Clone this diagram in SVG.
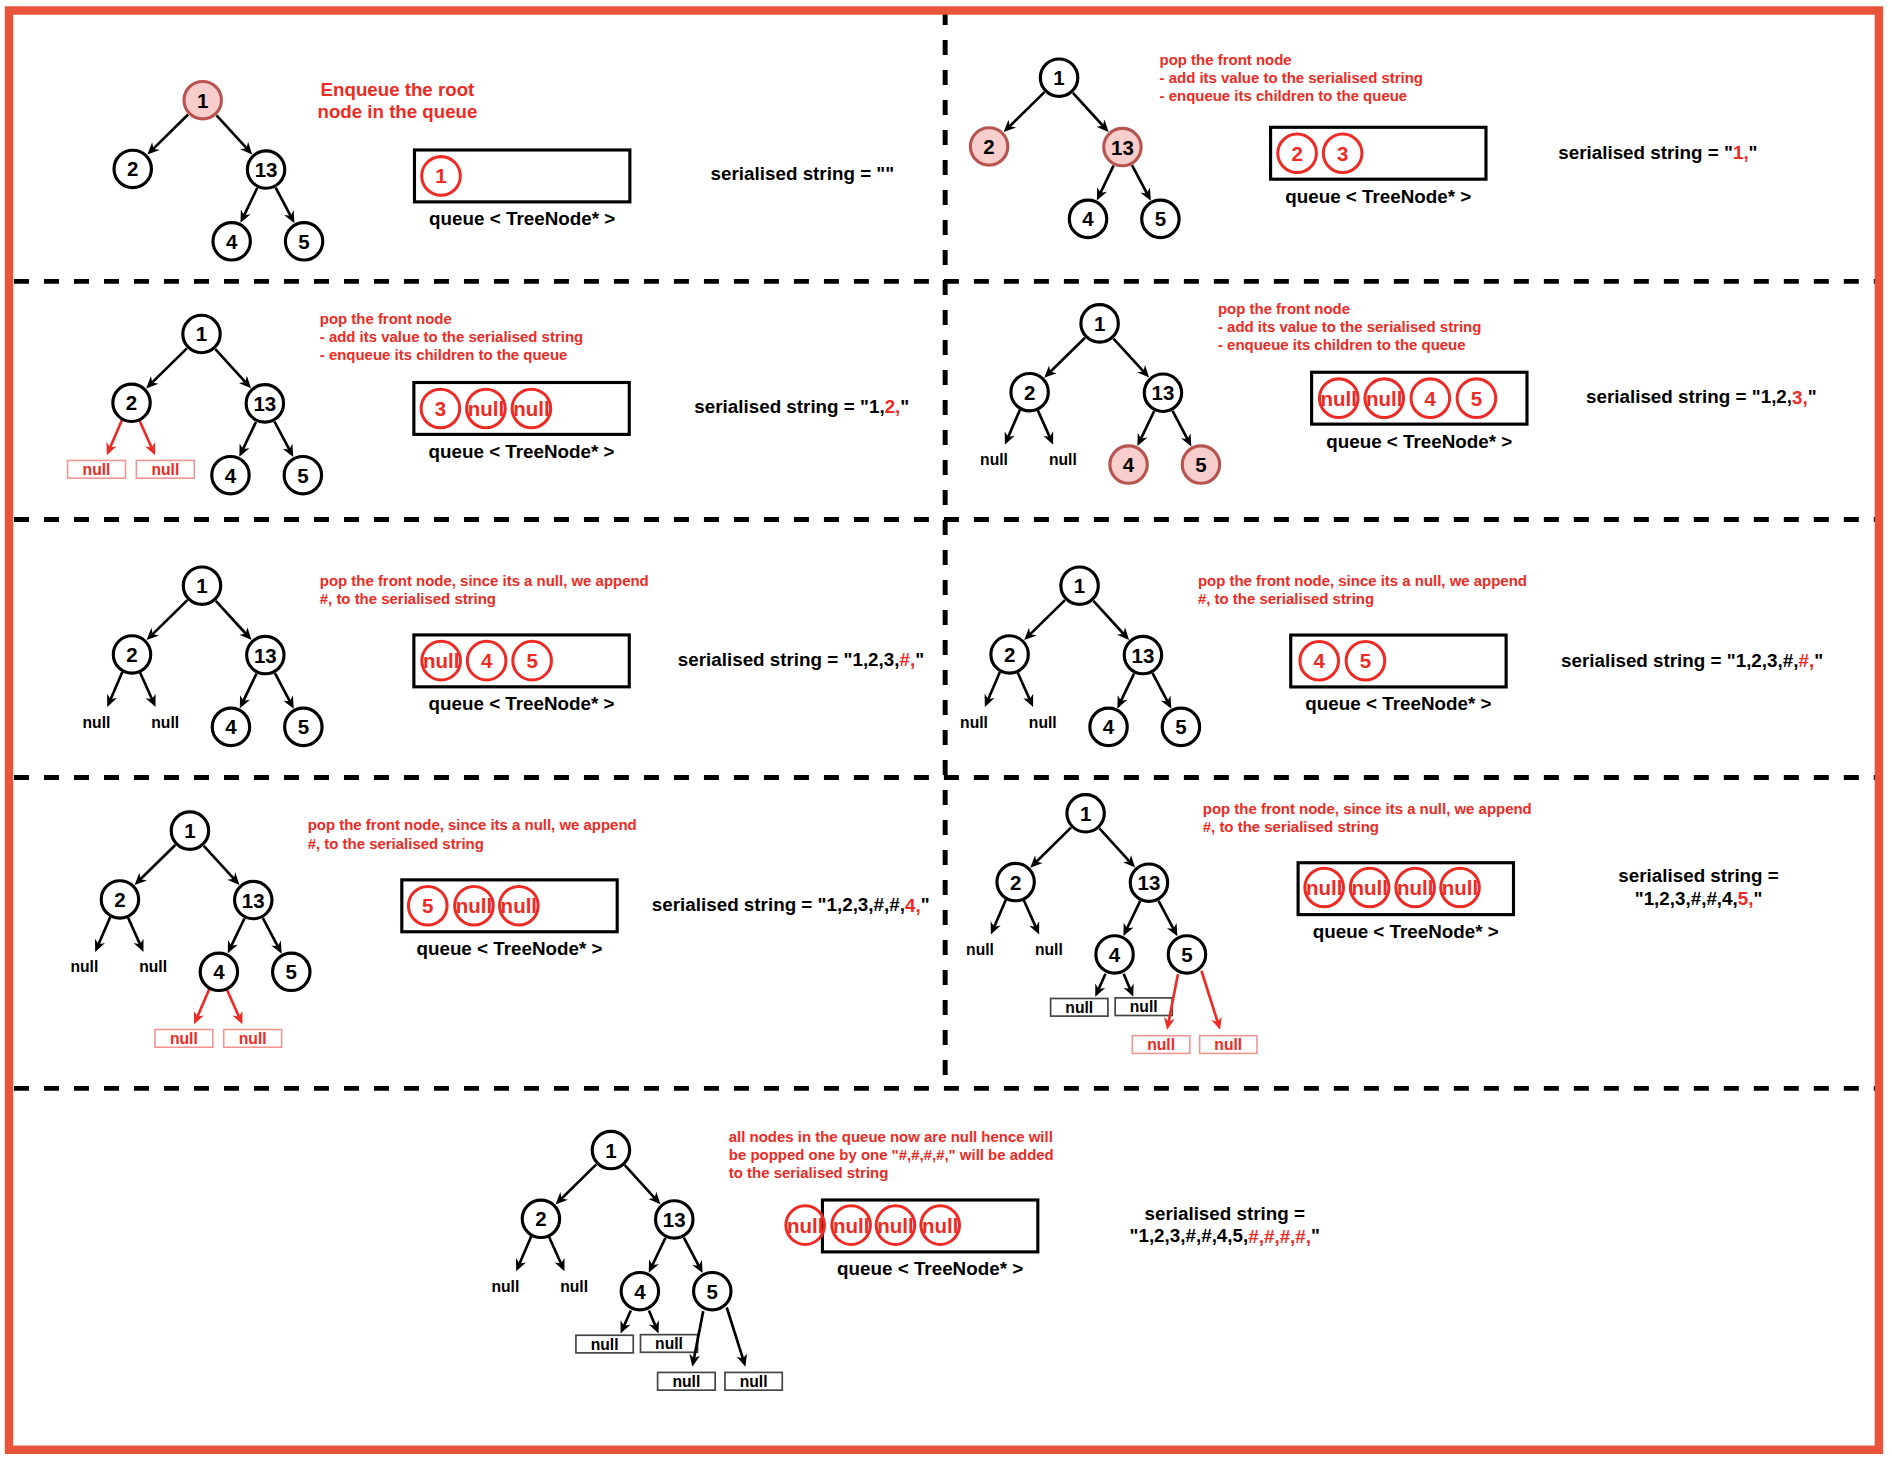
<svg xmlns="http://www.w3.org/2000/svg" width="1892" height="1458" viewBox="0 0 1892 1458">
<defs>
<style>
.bd{fill:none;stroke:#E8533A;stroke-width:7}
.dash{fill:none;stroke:#000;stroke-width:4.1;stroke-dasharray:12.43 12.43}
.nc{fill:#fff;stroke:#000;stroke-width:2.6}
.hl{fill:#F8CECC;stroke:#B85450}
.nt{font-family:"Liberation Sans",Arial,sans-serif;font-weight:bold;font-size:17px;text-anchor:middle;dominant-baseline:central;fill:#000}
.qb{fill:none;stroke:#000;stroke-width:2.6}
.qc{fill:none;stroke:#EE2A24;stroke-width:2.5}
.qt{font-family:"Liberation Sans",Arial,sans-serif;font-weight:bold;font-size:17px;text-anchor:middle;dominant-baseline:central;fill:#EE2A24}
.lbl{font-family:"Liberation Sans",Arial,sans-serif;font-weight:bold;font-size:15.6px;text-anchor:middle;dominant-baseline:central;fill:#000}
.note{font-family:"Liberation Sans",Arial,sans-serif;font-weight:bold;font-size:12.4px;dominant-baseline:central;fill:#EE2A24}
.big{font-size:15.5px;text-anchor:middle}
.r{fill:#EE2A24}
.e{stroke:#000;stroke-width:2.2;fill:none;marker-end:url(#ah)}
.er{stroke:#EE2A24;stroke-width:2.2;fill:none;marker-end:url(#ahr)}
.nb{fill:#fff;stroke:#F29490;stroke-width:1.3}
.kb{fill:#fff;stroke:#444;stroke-width:1.4}
.nlt{font-family:"Liberation Sans",Arial,sans-serif;font-weight:bold;font-size:13px;text-anchor:middle;dominant-baseline:central;fill:#000}
.nlr{fill:#EE2A24}
</style>
<marker id="ah" markerUnits="userSpaceOnUse" markerWidth="11" markerHeight="10" refX="5" refY="4.5" orient="auto" overflow="visible"><path d="M0,0 L10,4.5 L0,9 L3,4.5 Z" fill="#000"/></marker>
<marker id="ahr" markerUnits="userSpaceOnUse" markerWidth="11" markerHeight="10" refX="5" refY="4.5" orient="auto" overflow="visible"><path d="M0,0 L10,4.5 L0,9 L3,4.5 Z" fill="#EE2A24"/></marker>
</defs>
<rect width="1892" height="1458" fill="#fff"/>
<g transform="scale(1.206633)">
<g id="separators">
<line class="dash" x1="783.3" y1="8.3" x2="783.3" y2="892"/>
<line class="dash" x1="11.6" y1="233.2" x2="1557" y2="233.2"/>
<line class="dash" x1="11.6" y1="430.5" x2="1557" y2="430.5"/>
<line class="dash" x1="11.6" y1="644.4" x2="1557" y2="644.4"/>
<line class="dash" x1="11.6" y1="902" x2="1557" y2="902"/>
</g>
<rect class="bd" x="7.46" y="8.7" width="1549.7" height="1192.8"/>

<!-- PANEL 1 -->
<g id="panel1">
<g id="p1-tree" transform="translate(168 83)">
<g id="p1-connectors">
<line class="e" x1="-12.12" y1="11.92" x2="-42.31" y2="41.58"/>
<line class="e" x1="11.46" y1="12.55" x2="37.67" y2="41.26"/>
<line class="e" x1="45.16" y1="72.83" x2="33.5" y2="97.16"/>
<line class="e" x1="60.45" y1="72.52" x2="73.71" y2="97.56"/>
</g>
<g id="p1-n1"><circle class="nc hl" r="15.5"/><text class="nt">1</text></g>
<g id="p1-n2" transform="translate(-58 57)"><circle class="nc" r="15.5"/><text class="nt">2</text></g>
<g id="p1-n13" transform="translate(52.5 57.5)"><circle class="nc" r="15.5"/><text class="nt">13</text></g>
<g id="p1-n4" transform="translate(24 117)"><circle class="nc" r="15.5"/><text class="nt">4</text></g>
<g id="p1-n5" transform="translate(84 117)"><circle class="nc" r="15.5"/><text class="nt">5</text></g>
</g>
<text class="note big" x="329.4" y="73.8">Enqueue the root</text>
<text class="note big" x="329.4" y="92.6">node in the queue</text>
<g id="p1-queue"><rect class="qb" x="343.5" y="124.3" width="178.5" height="43"/>
<circle class="qc" cx="365.5" cy="145.8" r="16"/><text class="qt" x="365.5" y="145.8">1</text></g>
<text class="lbl" x="432.75" y="181.3">queue &lt; TreeNode* &gt;</text>
<text class="lbl" x="665" y="144.2">serialised string = ""</text>
</g>

<!-- PANEL 2 -->
<g id="panel2">
<g id="p2-tree" transform="translate(877.7 64.4)">
<g id="p2-connectors">
<line class="e" x1="-12.12" y1="11.92" x2="-42.31" y2="41.58"/>
<line class="e" x1="11.46" y1="12.55" x2="37.67" y2="41.26"/>
<line class="e" x1="45.16" y1="72.83" x2="33.5" y2="97.16"/>
<line class="e" x1="60.45" y1="72.52" x2="73.71" y2="97.56"/>
</g>
<g id="p2-n1"><circle class="nc" r="15.5"/><text class="nt">1</text></g>
<g id="p2-n2" transform="translate(-58 57)"><circle class="nc hl" r="15.5"/><text class="nt">2</text></g>
<g id="p2-n13" transform="translate(52.5 57.5)"><circle class="nc hl" r="15.5"/><text class="nt">13</text></g>
<g id="p2-n4" transform="translate(24 117)"><circle class="nc" r="15.5"/><text class="nt">4</text></g>
<g id="p2-n5" transform="translate(84 117)"><circle class="nc" r="15.5"/><text class="nt">5</text></g>
</g>
<text class="note" x="961" y="49.2">pop the front node</text>
<text class="note" x="961" y="64.1">- add its value to the serialised string</text>
<text class="note" x="961" y="79">- enqueue its children to the queue</text>
<g id="p2-queue"><rect class="qb" x="1053" y="105.5" width="178.5" height="43"/>
<circle class="qc" cx="1075" cy="127" r="16"/><text class="qt" x="1075" y="127">2</text>
<circle class="qc" cx="1112.7" cy="127" r="16"/><text class="qt" x="1112.7" y="127">3</text></g>
<text class="lbl" x="1142.25" y="162.5">queue &lt; TreeNode* &gt;</text>
<text class="lbl" x="1374" y="126.3">serialised string = "<tspan class="r">1,</tspan>"</text>
</g>

<!-- PANEL 3 -->
<g id="panel3">
<g id="p3-tree" transform="translate(167 276.8)">
<g id="p3-null-l"><rect class="nb" x="-111" y="104.8" width="48" height="14.7"/><text class="nlt nlr" x="-87" y="112.15">null</text></g>
<g id="p3-null-r"><rect class="nb" x="-54" y="104.8" width="48" height="14.7"/><text class="nlt nlr" x="-30" y="112.15">null</text></g>
<g id="p3-connectors">
<line class="e" x1="-12.12" y1="11.92" x2="-42.31" y2="41.58"/>
<line class="e" x1="11.46" y1="12.55" x2="37.67" y2="41.26"/>
<line class="e" x1="45.16" y1="72.83" x2="33.5" y2="97.16"/>
<line class="e" x1="60.45" y1="72.52" x2="73.71" y2="97.56"/>
<line class="er" x1="-66" y1="71.5" x2="-76.52" y2="95.91"/>
<line class="er" x1="-51.5" y1="71.5" x2="-40.55" y2="95.94"/>
</g>
<g id="p3-n1"><circle class="nc" r="15.5"/><text class="nt">1</text></g>
<g id="p3-n2" transform="translate(-58 57)"><circle class="nc" r="15.5"/><text class="nt">2</text></g>
<g id="p3-n13" transform="translate(52.5 57.5)"><circle class="nc" r="15.5"/><text class="nt">13</text></g>
<g id="p3-n4" transform="translate(24 117)"><circle class="nc" r="15.5"/><text class="nt">4</text></g>
<g id="p3-n5" transform="translate(84 117)"><circle class="nc" r="15.5"/><text class="nt">5</text></g>
</g>
<text class="note" x="265" y="263.8">pop the front node</text>
<text class="note" x="265" y="279">- add its value to the serialised string</text>
<text class="note" x="265" y="293.7">- enqueue its children to the queue</text>
<g id="p3-queue"><rect class="qb" x="343" y="317" width="178.5" height="43"/>
<circle class="qc" cx="365" cy="338.5" r="16"/><text class="qt" x="365" y="338.5">3</text>
<circle class="qc" cx="402.7" cy="338.5" r="16"/><text class="qt" x="402.7" y="338.5">null</text>
<circle class="qc" cx="440.4" cy="338.5" r="16"/><text class="qt" x="440.4" y="338.5">null</text></g>
<text class="lbl" x="432.25" y="374">queue &lt; TreeNode* &gt;</text>
<text class="lbl" x="664.5" y="336.5">serialised string = "1,<tspan class="r">2,</tspan>"</text>
</g>

<!-- PANEL 4 -->
<g id="panel4">
<g id="p4-tree" transform="translate(911.3 268)">
<g id="p4-connectors">
<line class="e" x1="-12.12" y1="11.92" x2="-42.31" y2="41.58"/>
<line class="e" x1="11.46" y1="12.55" x2="37.67" y2="41.26"/>
<line class="e" x1="45.16" y1="72.83" x2="33.5" y2="97.16"/>
<line class="e" x1="60.45" y1="72.52" x2="73.71" y2="97.56"/>
<line class="e" x1="-66" y1="71.5" x2="-76.52" y2="95.91"/>
<line class="e" x1="-51.5" y1="71.5" x2="-40.55" y2="95.94"/>
</g>
<g id="p4-n1"><circle class="nc" r="15.5"/><text class="nt">1</text></g>
<g id="p4-n2" transform="translate(-58 57)"><circle class="nc" r="15.5"/><text class="nt">2</text></g>
<g id="p4-n13" transform="translate(52.5 57.5)"><circle class="nc" r="15.5"/><text class="nt">13</text></g>
<g id="p4-n4" transform="translate(24 117)"><circle class="nc hl" r="15.5"/><text class="nt">4</text></g>
<g id="p4-n5" transform="translate(84 117)"><circle class="nc hl" r="15.5"/><text class="nt">5</text></g>
<g id="p4-null-l"><text class="nlt" x="-87.5" y="113">null</text></g>
<g id="p4-null-r"><text class="nlt" x="-30.5" y="113">null</text></g>
</g>
<text class="note" x="1009.4" y="255.5">pop the front node</text>
<text class="note" x="1009.4" y="270.7">- add its value to the serialised string</text>
<text class="note" x="1009.4" y="285.4">- enqueue its children to the queue</text>
<g id="p4-queue"><rect class="qb" x="1087" y="308.5" width="178.5" height="43"/>
<circle class="qc" cx="1109.5" cy="330" r="16"/><text class="qt" x="1109.5" y="330">null</text>
<circle class="qc" cx="1147.2" cy="330" r="16"/><text class="qt" x="1147.2" y="330">null</text>
<circle class="qc" cx="1185.4" cy="330" r="16"/><text class="qt" x="1185.4" y="330">4</text>
<circle class="qc" cx="1223.6" cy="330" r="16"/><text class="qt" x="1223.6" y="330">5</text></g>
<text class="lbl" x="1176.25" y="365.5">queue &lt; TreeNode* &gt;</text>
<text class="lbl" x="1410" y="328.8">serialised string = "1,2,<tspan class="r">3,</tspan>"</text>
</g>

<!-- PANEL 5 -->
<g id="panel5">
<g id="p5-tree" transform="translate(167.4 485.4)">
<g id="p5-connectors">
<line class="e" x1="-12.12" y1="11.92" x2="-42.31" y2="41.58"/>
<line class="e" x1="11.46" y1="12.55" x2="37.67" y2="41.26"/>
<line class="e" x1="45.16" y1="72.83" x2="33.5" y2="97.16"/>
<line class="e" x1="60.45" y1="72.52" x2="73.71" y2="97.56"/>
<line class="e" x1="-66" y1="71.5" x2="-76.52" y2="95.91"/>
<line class="e" x1="-51.5" y1="71.5" x2="-40.55" y2="95.94"/>
</g>
<g id="p5-n1"><circle class="nc" r="15.5"/><text class="nt">1</text></g>
<g id="p5-n2" transform="translate(-58 57)"><circle class="nc" r="15.5"/><text class="nt">2</text></g>
<g id="p5-n13" transform="translate(52.5 57.5)"><circle class="nc" r="15.5"/><text class="nt">13</text></g>
<g id="p5-n4" transform="translate(24 117)"><circle class="nc" r="15.5"/><text class="nt">4</text></g>
<g id="p5-n5" transform="translate(84 117)"><circle class="nc" r="15.5"/><text class="nt">5</text></g>
<g id="p5-null-l"><text class="nlt" x="-87.5" y="113">null</text></g>
<g id="p5-null-r"><text class="nlt" x="-30.5" y="113">null</text></g>
</g>
<text class="note" x="265" y="481">pop the front node, since its a null, we append</text>
<text class="note" x="265" y="495.9">#, to the serialised string</text>
<g id="p5-queue"><rect class="qb" x="343" y="526.2" width="178.5" height="43"/>
<circle class="qc" cx="365.6" cy="547.5" r="16"/><text class="qt" x="365.6" y="547.5">null</text>
<circle class="qc" cx="403.3" cy="547.5" r="16"/><text class="qt" x="403.3" y="547.5">4</text>
<circle class="qc" cx="441" cy="547.5" r="16"/><text class="qt" x="441" y="547.5">5</text></g>
<text class="lbl" x="432.25" y="583.2">queue &lt; TreeNode* &gt;</text>
<text class="lbl" x="663.8" y="546.2">serialised string = "1,2,3,<tspan class="r">#,</tspan>"</text>
</g>

<!-- PANEL 6 -->
<g id="panel6">
<g id="p6-tree" transform="translate(894.7 485.4)">
<g id="p6-connectors">
<line class="e" x1="-12.12" y1="11.92" x2="-42.31" y2="41.58"/>
<line class="e" x1="11.46" y1="12.55" x2="37.67" y2="41.26"/>
<line class="e" x1="45.16" y1="72.83" x2="33.5" y2="97.16"/>
<line class="e" x1="60.45" y1="72.52" x2="73.71" y2="97.56"/>
<line class="e" x1="-66" y1="71.5" x2="-76.52" y2="95.91"/>
<line class="e" x1="-51.5" y1="71.5" x2="-40.55" y2="95.94"/>
</g>
<g id="p6-n1"><circle class="nc" r="15.5"/><text class="nt">1</text></g>
<g id="p6-n2" transform="translate(-58 57)"><circle class="nc" r="15.5"/><text class="nt">2</text></g>
<g id="p6-n13" transform="translate(52.5 57.5)"><circle class="nc" r="15.5"/><text class="nt">13</text></g>
<g id="p6-n4" transform="translate(24 117)"><circle class="nc" r="15.5"/><text class="nt">4</text></g>
<g id="p6-n5" transform="translate(84 117)"><circle class="nc" r="15.5"/><text class="nt">5</text></g>
<g id="p6-null-l"><text class="nlt" x="-87.5" y="113">null</text></g>
<g id="p6-null-r"><text class="nlt" x="-30.5" y="113">null</text></g>
</g>
<text class="note" x="992.8" y="481">pop the front node, since its a null, we append</text>
<text class="note" x="992.8" y="496">#, to the serialised string</text>
<g id="p6-queue"><rect class="qb" x="1069.7" y="526.3" width="178.5" height="43"/>
<circle class="qc" cx="1093.3" cy="547.6" r="16"/><text class="qt" x="1093.3" y="547.6">4</text>
<circle class="qc" cx="1131.6" cy="547.6" r="16"/><text class="qt" x="1131.6" y="547.6">5</text></g>
<text class="lbl" x="1158.95" y="583.3">queue &lt; TreeNode* &gt;</text>
<text class="lbl" x="1402.3" y="547">serialised string = "1,2,3,#,<tspan class="r">#,</tspan>"</text>
</g>

<!-- PANEL 7 -->
<g id="panel7">
<g id="p7-tree" transform="translate(157.4 688.4)">
<g id="p7-null-4l"><rect class="nb" x="-29" y="164.8" width="48" height="14.7"/><text class="nlt nlr" x="-5" y="172.15">null</text></g>
<g id="p7-null-4r"><rect class="nb" x="28" y="164.8" width="48" height="14.7"/><text class="nlt nlr" x="52" y="172.15">null</text></g>
<g id="p7-connectors">
<line class="e" x1="-12.12" y1="11.92" x2="-42.31" y2="41.58"/>
<line class="e" x1="11.46" y1="12.55" x2="37.67" y2="41.26"/>
<line class="e" x1="45.16" y1="72.83" x2="33.5" y2="97.16"/>
<line class="e" x1="60.45" y1="72.52" x2="73.71" y2="97.56"/>
<line class="e" x1="-66" y1="71.5" x2="-76.52" y2="95.91"/>
<line class="e" x1="-51.5" y1="71.5" x2="-40.55" y2="95.94"/>
<line class="er" x1="16" y1="131.5" x2="5.48" y2="155.91"/>
<line class="er" x1="30.5" y1="131.5" x2="41.45" y2="155.94"/>
</g>
<g id="p7-n1"><circle class="nc" r="15.5"/><text class="nt">1</text></g>
<g id="p7-n2" transform="translate(-58 57)"><circle class="nc" r="15.5"/><text class="nt">2</text></g>
<g id="p7-n13" transform="translate(52.5 57.5)"><circle class="nc" r="15.5"/><text class="nt">13</text></g>
<g id="p7-n4" transform="translate(24 117)"><circle class="nc" r="15.5"/><text class="nt">4</text></g>
<g id="p7-n5" transform="translate(84 117)"><circle class="nc" r="15.5"/><text class="nt">5</text></g>
<g id="p7-null-l"><text class="nlt" x="-87.5" y="113">null</text></g>
<g id="p7-null-r"><text class="nlt" x="-30.5" y="113">null</text></g>
</g>
<text class="note" x="255" y="683.7">pop the front node, since its a null, we append</text>
<text class="note" x="255" y="698.9">#, to the serialised string</text>
<g id="p7-queue"><rect class="qb" x="333" y="729.2" width="178.5" height="43"/>
<circle class="qc" cx="354.5" cy="750.6" r="16"/><text class="qt" x="354.5" y="750.6">5</text>
<circle class="qc" cx="392.8" cy="750.6" r="16"/><text class="qt" x="392.8" y="750.6">null</text>
<circle class="qc" cx="430" cy="750.6" r="16"/><text class="qt" x="430" y="750.6">null</text></g>
<text class="lbl" x="422.25" y="786.2">queue &lt; TreeNode* &gt;</text>
<text class="lbl" x="655.3" y="750">serialised string = "1,2,3,#,#,<tspan class="r">4,</tspan>"</text>
</g>

<!-- PANEL 8 -->
<g id="panel8">
<g id="p8-tree" transform="translate(899.7 674)">
<g id="p8-null-4l"><rect class="kb" x="-29" y="153.5" width="47.5" height="14.6"/><text class="nlt" x="-5.25" y="160.8">null</text></g>
<g id="p8-null-4r"><rect class="kb" x="24.5" y="153" width="47.3" height="14.6"/><text class="nlt" x="48.15" y="160.3">null</text></g>
<g id="p8-null-5l"><rect class="nb" x="38.7" y="184.3" width="47.7" height="14.7"/><text class="nlt nlr" x="62.55" y="191.65">null</text></g>
<g id="p8-null-5r"><rect class="nb" x="94.5" y="184.3" width="47.5" height="14.7"/><text class="nlt nlr" x="118.25" y="191.65">null</text></g>
<g id="p8-connectors">
<line class="e" x1="-12.12" y1="11.92" x2="-42.31" y2="41.58"/>
<line class="e" x1="11.46" y1="12.55" x2="37.67" y2="41.26"/>
<line class="e" x1="45.16" y1="72.83" x2="33.5" y2="97.16"/>
<line class="e" x1="60.45" y1="72.52" x2="73.71" y2="97.56"/>
<line class="e" x1="-66" y1="71.5" x2="-76.52" y2="95.91"/>
<line class="e" x1="-51.5" y1="71.5" x2="-40.55" y2="95.94"/>
<line class="e" x1="16.5" y1="133" x2="10.04" y2="147.43"/>
<line class="e" x1="31.5" y1="133" x2="37.56" y2="147.39"/>
<line class="er" x1="76.5" y1="133.5" x2="68.46" y2="174.59"/>
<line class="er" x1="96" y1="130.5" x2="109.99" y2="174.73"/>
</g>
<g id="p8-n1"><circle class="nc" r="15.5"/><text class="nt">1</text></g>
<g id="p8-n2" transform="translate(-58 57)"><circle class="nc" r="15.5"/><text class="nt">2</text></g>
<g id="p8-n13" transform="translate(52.5 57.5)"><circle class="nc" r="15.5"/><text class="nt">13</text></g>
<g id="p8-n4" transform="translate(24 117)"><circle class="nc" r="15.5"/><text class="nt">4</text></g>
<g id="p8-n5" transform="translate(84 117)"><circle class="nc" r="15.5"/><text class="nt">5</text></g>
<g id="p8-null-l"><text class="nlt" x="-87.5" y="113">null</text></g>
<g id="p8-null-r"><text class="nlt" x="-30.5" y="113">null</text></g>
</g>
<text class="note" x="996.8" y="669.9">pop the front node, since its a null, we append</text>
<text class="note" x="996.8" y="685.1">#, to the serialised string</text>
<g id="p8-queue"><rect class="qb" x="1075.8" y="715" width="178.5" height="43"/>
<circle class="qc" cx="1097.4" cy="735.5" r="16"/><text class="qt" x="1097.4" y="735.5">null</text>
<circle class="qc" cx="1135.1" cy="735.5" r="16"/><text class="qt" x="1135.1" y="735.5">null</text>
<circle class="qc" cx="1172.8" cy="735.5" r="16"/><text class="qt" x="1172.8" y="735.5">null</text>
<circle class="qc" cx="1210" cy="735.5" r="16"/><text class="qt" x="1210" y="735.5">null</text></g>
<text class="lbl" x="1165.05" y="772">queue &lt; TreeNode* &gt;</text>
<text class="lbl" x="1407.7" y="726">serialised string =</text>
<text class="lbl" x="1407.7" y="744.5">"1,2,3,#,#,4,<tspan class="r">5,</tspan>"</text>
</g>

<!-- PANEL 9 -->
<g id="panel9">
<g id="p9-tree" transform="translate(506.3 953.1)">
<g id="p9-null-4l"><rect class="kb" x="-29" y="153.5" width="47.5" height="14.6"/><text class="nlt" x="-5.25" y="160.8">null</text></g>
<g id="p9-null-4r"><rect class="kb" x="24.5" y="153" width="47.3" height="14.6"/><text class="nlt" x="48.15" y="160.3">null</text></g>
<g id="p9-null-5l"><rect class="kb" x="38.7" y="184.3" width="47.7" height="14.7"/><text class="nlt" x="62.55" y="191.65">null</text></g>
<g id="p9-null-5r"><rect class="kb" x="94.5" y="184.3" width="47.5" height="14.7"/><text class="nlt" x="118.25" y="191.65">null</text></g>
<g id="p9-connectors">
<line class="e" x1="-12.12" y1="11.92" x2="-42.31" y2="41.58"/>
<line class="e" x1="11.46" y1="12.55" x2="37.67" y2="41.26"/>
<line class="e" x1="45.16" y1="72.83" x2="33.5" y2="97.16"/>
<line class="e" x1="60.45" y1="72.52" x2="73.71" y2="97.56"/>
<line class="e" x1="-66" y1="71.5" x2="-76.52" y2="95.91"/>
<line class="e" x1="-51.5" y1="71.5" x2="-40.55" y2="95.94"/>
<line class="e" x1="16.5" y1="133" x2="10.04" y2="147.43"/>
<line class="e" x1="31.5" y1="133" x2="37.56" y2="147.39"/>
<line class="e" x1="76.5" y1="133.5" x2="68.46" y2="174.59"/>
<line class="e" x1="96" y1="130.5" x2="109.99" y2="174.73"/>
</g>
<g id="p9-n1"><circle class="nc" r="15.5"/><text class="nt">1</text></g>
<g id="p9-n2" transform="translate(-58 57)"><circle class="nc" r="15.5"/><text class="nt">2</text></g>
<g id="p9-n13" transform="translate(52.5 57.5)"><circle class="nc" r="15.5"/><text class="nt">13</text></g>
<g id="p9-n4" transform="translate(24 117)"><circle class="nc" r="15.5"/><text class="nt">4</text></g>
<g id="p9-n5" transform="translate(84 117)"><circle class="nc" r="15.5"/><text class="nt">5</text></g>
<g id="p9-null-l"><text class="nlt" x="-87.5" y="113">null</text></g>
<g id="p9-null-r"><text class="nlt" x="-30.5" y="113">null</text></g>
</g>
<text class="note" x="604" y="942">all nodes in the queue now are null hence will</text>
<text class="note" x="604" y="956.7">be popped one by one "#,#,#,#," will be added</text>
<text class="note" x="604" y="971.6">to the serialised string</text>
<g id="p9-queue"><rect class="qb" x="681.6" y="994.5" width="178.5" height="43"/>
<circle class="qc" cx="667.3" cy="1015.3" r="16"/><text class="qt" x="667.3" y="1015.3">null</text>
<circle class="qc" cx="705.4" cy="1015.3" r="16"/><text class="qt" x="705.4" y="1015.3">null</text>
<circle class="qc" cx="742.1" cy="1015.3" r="16"/><text class="qt" x="742.1" y="1015.3">null</text>
<circle class="qc" cx="779.2" cy="1015.3" r="16"/><text class="qt" x="779.2" y="1015.3">null</text></g>
<text class="lbl" x="770.85" y="1051.5">queue &lt; TreeNode* &gt;</text>
<text class="lbl" x="1015" y="1005.6">serialised string =</text>
<text class="lbl" x="1015" y="1024">"1,2,3,#,#,4,5,<tspan class="r">#,#,#,#,</tspan>"</text>
</g>
</g>
</svg>
